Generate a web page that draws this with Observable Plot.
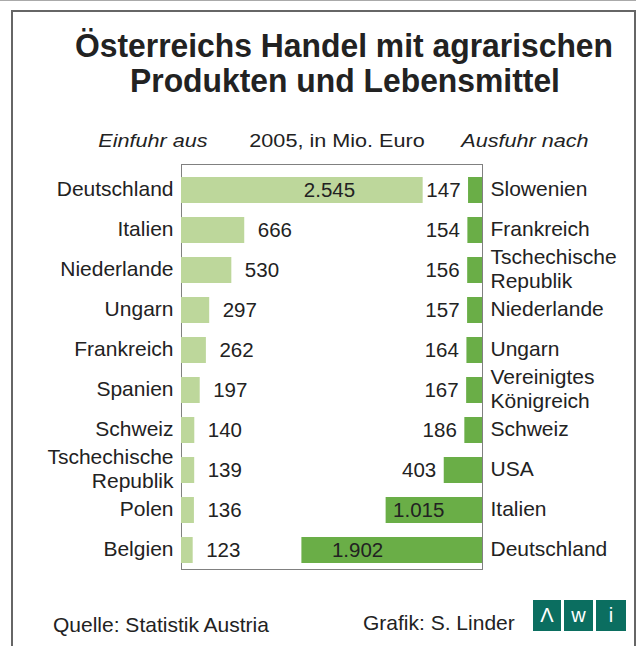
<!DOCTYPE html>
<html>
<head>
<meta charset="utf-8">
<script src="https://cdn.jsdelivr.net/npm/d3@7"></script>
<script src="https://cdn.jsdelivr.net/npm/@observablehq/plot@0.6"></script>
<style>
  html, body { margin: 0; padding: 0; background: #fff; }
  #page { position: relative; width: 636px; height: 646px; overflow: hidden; font-family: "Liberation Sans", Arial, sans-serif; color: #222; }
  .abs { position: absolute; white-space: nowrap; line-height: 1; }
  .sc { transform: translateX(-50%) scaleX(1.2); transform-origin: 50% 50%; }
  .tt { transform: translateX(-50%) scaleX(0.965); transform-origin: 50% 50%; font-size: 33px; font-weight: bold; }
  .line { position: absolute; background: #666; }
  #chart { position: absolute; left: 0; top: 160px; }
  .logo { position: absolute; top: 600px; height: 31px; background: #0b6e60; color: #fff; font-size: 20px; line-height: 31px; text-align: center; }
</style>
</head>
<body>
<div id="page">
  <div class="line" style="left:0;top:0;width:636px;height:1px;background:#aaa"></div>
  <div class="line" style="left:11px;top:10px;width:625px;height:1.5px"></div>
  <div class="line" style="left:11px;top:10px;width:1.5px;height:636px"></div>
  <div class="line" style="left:634px;top:10px;width:1.5px;height:636px"></div>

  <div class="abs tt" style="left:344px;top:29px;">Österreichs Handel mit agrarischen</div>
  <div class="abs tt" style="left:344.5px;top:64px;">Produkten und Lebensmittel</div>

  <div class="abs sc" style="left:153.3px;top:131.8px;font-size:18px;font-style:italic;">Einfuhr aus</div>
  <div class="abs sc" style="left:337.2px;top:131.8px;font-size:18px;">2005, in Mio. Euro</div>
  <div class="abs sc" style="left:524.9px;top:131.8px;font-size:18px;font-style:italic;">Ausfuhr nach</div>

  <div id="chart"></div>

  <div class="abs" style="left:53px;top:614px;font-size:21px;">Quelle: Statistik Austria</div>
  <div class="abs" style="left:363px;top:612px;font-size:21px;">Grafik: S. Linder</div>
  <div class="logo" style="left:533px;width:28px;">Λ</div>
  <div class="logo" style="left:564px;width:29px;">w</div>
  <div class="logo" style="left:596px;width:30px;">i</div>
</div>
<script>
// Einfuhr (imports) by origin country, 2005, Mio. Euro
const importCountries = ["Deutschland", "Italien", "Niederlande", "Ungarn", "Frankreich", "Spanien", "Schweiz", "Tschechische\nRepublik", "Polen", "Belgien"];
const importValues = [2545, 666, 530, 297, 262, 197, 140, 139, 136, 123];
// Ausfuhr (exports) by destination country, 2005, Mio. Euro
const exportCountries = ["Slowenien", "Frankreich", "Tschechische\nRepublik", "Niederlande", "Ungarn", "Vereinigtes\nKönigreich", "Schweiz", "USA", "Italien", "Deutschland"];
const exportValues = [147, 154, 156, 157, 164, 167, 186, 403, 1015, 1902];

const D = 3170; // extent of the shared value axis inside the central box

const imports = importCountries.map((c, i) => ({rank: i, country: c, value: importValues[i]}));
const exports = exportCountries.map((c, i) => ({rank: i, country: c, value: exportValues[i]}));

const de = d3.formatLocale({decimal: ",", thousands: ".", grouping: [3], currency: ["", " €"]});
const fmt = de.format(",d");

const light = "#bdd79b";
const dark = "#6aae47";
const ink = "#222";

const chart = Plot.plot({
  width: 636,
  height: 420,
  marginLeft: 181,
  marginRight: 154,
  marginTop: 10,
  marginBottom: 10,
  style: {fontFamily: "'Liberation Sans', Arial, sans-serif", fontSize: "20px", color: ink, background: "transparent"},
  x: {domain: [0, D], axis: null},
  y: {domain: d3.range(10), axis: null, padding: 0.35, paddingOuter: 0.175},
  marks: [
    Plot.frame({stroke: "#808080", strokeWidth: 1, insetTop: -6, insetBottom: 1}),
    Plot.barX(imports, {x1: 0, x2: "value", y: "rank", fill: light}),
    Plot.barX(exports, {x1: d => D - d.value, x2: D, y: "rank", fill: dark}),
    Plot.text(imports, {x: 0, y: "rank", text: "country", textAnchor: "end", dx: -8, dy: -2, lineHeight: 1.15, fontSize: 21, fill: ink}),
    Plot.text(exports, {x: D, y: "rank", text: "country", textAnchor: "start", dx: 8, dy: -2, lineHeight: 1.15, fontSize: 21, fill: ink}),
    Plot.text(imports.filter(d => d.value < 1000), {x: "value", y: "rank", text: d => fmt(d.value), textAnchor: "start", dx: 13, fontSize: 20.5, fill: ink}),
    Plot.text(imports.filter(d => d.value >= 1000), {x: "value", y: "rank", text: d => fmt(d.value), textAnchor: "end", dx: -68, fontSize: 20.5, fill: ink}),
    Plot.text(exports.filter(d => d.value < 1000), {x: d => D - d.value, y: "rank", text: d => fmt(d.value), textAnchor: "end", dx: -8, fontSize: 20.5, fill: ink}),
    Plot.text(exports.filter(d => d.country === "Italien"), {x: d => D - d.value, y: "rank", text: d => fmt(d.value), textAnchor: "start", dx: 7, fontSize: 20.5, fill: ink}),
    Plot.text(exports.filter(d => d.country === "Deutschland"), {x: d => D - d.value, y: "rank", text: d => fmt(d.value), textAnchor: "start", dx: 30, fontSize: 20.5, fill: ink})
  ]
});
document.getElementById("chart").appendChild(chart);
</script>
</body>
</html>
